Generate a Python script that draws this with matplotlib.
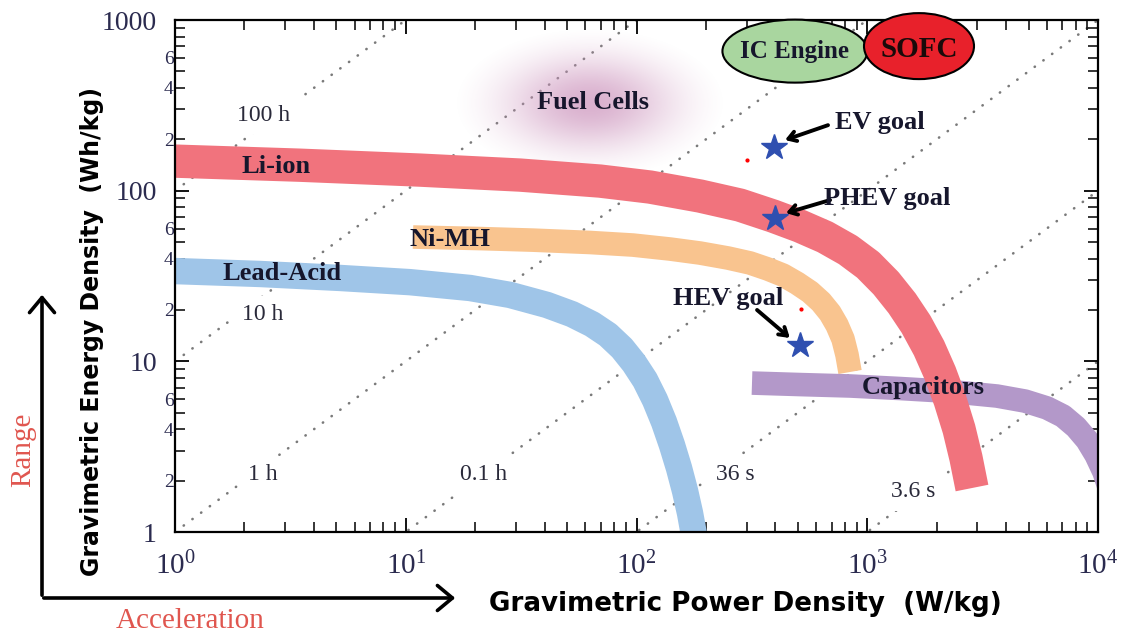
import numpy as np
import matplotlib
matplotlib.use('Agg')
import matplotlib.pyplot as plt
from matplotlib.patches import Ellipse, FancyArrowPatch
from matplotlib.ticker import FixedLocator, FixedFormatter, NullFormatter

plt.rcParams['font.family'] = ['Liberation Serif', 'DejaVu Serif']
plt.rcParams['mathtext.fontset'] = 'custom'
plt.rcParams['mathtext.rm'] = 'Liberation Serif'
plt.rcParams['mathtext.it'] = 'Liberation Serif:italic'
plt.rcParams['mathtext.bf'] = 'Liberation Serif:bold'

# band centre lines: power density (W/kg), energy density (Wh/kg)
liion_p = [1, 3.48, 11.5, 31.3, 69.5, 114.4, 188.5, 280.8, 390.5, 511, 656, 825, 1008,
           1206, 1415, 1627, 1852, 2067, 2284, 2498, 2679, 2844]
liion_e = [149, 141, 132, 123.4, 113.8, 105, 93, 82.3, 71, 62, 53.5, 44.9, 36.7,
           28.7, 21.9, 16.5, 11.96, 8.54, 5.93, 4.01, 2.71, 1.81]
nimh_p = [10.75, 20.98, 35.6, 62.9, 96.6, 139.7, 188.5, 249.2, 310.4, 371.5, 431.3,
          496.2, 564.9, 630.3, 689.5, 739.6, 785.2, 817.2, 842]
nimh_e = [53.5, 52.4, 51.3, 49.7, 48, 45.5, 43.1, 40.3, 37.7, 34.7, 32,
          28.7, 25.5, 22.3, 19.2, 16.3, 13.5, 10.9, 8.66]
lead_p = [1, 2.335, 5.19, 10.43, 18.98, 28.3, 40.9, 52.5, 64.2, 75.2, 86.5, 97.5,
          108.9, 120.3, 131.6, 142.5, 152.8, 162.3, 170.6, 177.5, 182.9]
lead_e = [33.8, 32.5, 30.8, 29.1, 26.9, 24.5, 21.4, 18.9, 16.5, 14.3, 11.96, 9.77,
          7.77, 5.93, 4.41, 3.23, 2.37, 1.74, 1.29, 0.96, 0.785]
cap_p = [316.6, 511, 842, 1387, 2284, 3650, 4827, 6012, 7051, 8028, 8961, 9802, 10617, 11270]
cap_e = [7.46, 7.31, 7.17, 6.93, 6.66, 6.26, 5.85, 5.33, 4.78, 4.12, 3.46, 2.83, 2.25, 1.76]

# constant discharge time lines (hours) and their labels
hours = [100, 10, 1, 0.1, 0.01, 0.001]
time_labels = ['100 h', '10 h', '1 h', '0.1 h', '36 s', '3.6 s']
time_lab_p = [2.43, 2.40, 2.40, 21.8, 267, 1578]
time_lab_e = [277, 18.7, 2.16, 2.16, 2.16, 1.72]

# goals
goal_names = ['EV goal', 'PHEV goal', 'HEV goal']
goal_p = [394, 398, 511]
goal_e = [180, 69, 12.5]
goal_text_p = [1130, 1220, 250]
goal_text_e = [252, 90, 23.5]
goal_tail_p = [676, 690, 333]
goal_tail_e = [242, 88.1, 20.0]
goal_tip_p = [440, 444, 462]
goal_tip_e = [198, 73.9, 13.7]

stray_p = [301, 516]
stray_e = [151, 20.2]

x_major = [1, 10, 100, 1000, 10000]
x_labels = [r'$10^{0}$', r'$10^{1}$', r'$10^{2}$', r'$10^{3}$', r'$10^{4}$']
y_major = [1, 10, 100, 1000]
y_labels = ['1', '10', '100', '1000']

fig = plt.figure(figsize=(11.24, 6.32), dpi=100)
ax = fig.add_axes([175/1124, 100/632, 923/1124, 512/632])
ax.set_xscale('log')
ax.set_yscale('log')

txtc = '#16162c'
tickc = '#2b2b4f'

# dotted time lines
pp = np.array([1, 1e4])
for h in hours:
    ax.plot(pp, h*pp, color='#7a7a7a', lw=1.9, linestyle=(0, (0.1, 4)),
            dash_capstyle='round', zorder=1)
for lab, p, e in zip(time_labels, time_lab_p, time_lab_e):
    ax.text(p, e, lab, fontsize=17, color='#2a2a3a', ha='center', va='center', zorder=1.2,
            bbox=dict(facecolor='white', edgecolor='none', pad=6))

# bands
band_kw = dict(solid_capstyle='butt', solid_joinstyle='round')
ax.plot(lead_p, lead_e, color='#9fc5e8', lw=19, zorder=2, **band_kw)
ax.plot(nimh_p, nimh_e, color='#f9c48f', lw=17, zorder=2, **band_kw)
ax.plot(cap_p, cap_e, color='#b398c9', lw=17, zorder=2.1, **band_kw)
ax.plot(liion_p, liion_e, color='#f1737d', lw=24, zorder=2.2, **band_kw)

ax.set_xlim(1, 1e4)
ax.set_ylim(1, 1000)

def to_axes(p, e):
    return ax.transAxes.inverted().transform(ax.transData.transform((p, e)))

# fuel cell glow
gx, gy = np.meshgrid(np.linspace(-1, 1, 260), np.linspace(-1, 1, 140))
r2 = gx**2 + gy**2
a = np.clip((np.exp(-2.5*r2) - np.exp(-2.5)) / (1 - np.exp(-2.5)), 0, 1)
img = np.zeros((140, 260, 4))
img[..., 0] = 0.80
img[..., 1] = 0.58
img[..., 2] = 0.74
img[..., 3] = 0.72*a
fx, fy = to_axes(62.9, 326)
hw, hh = 135/923, 75/512
ax.imshow(img, extent=[fx-hw, fx+hw, fy-hh, fy+hh], transform=ax.transAxes,
          aspect='auto', interpolation='bilinear', zorder=1.5)
ax.set_xlim(1, 1e4)
ax.set_ylim(1, 1000)

# IC engine and SOFC ellipses
cx, cy = to_axes(486, 657)
ax.add_patch(Ellipse((cx, cy), 145/923, 63/512, transform=ax.transAxes, facecolor='#a9d69f',
                     edgecolor='black', lw=1.5, clip_on=False, zorder=5))
cx, cy = to_axes(1676, 703)
ax.add_patch(Ellipse((cx, cy), 110/923, 66/512, transform=ax.transAxes, facecolor='#e8212b',
                     edgecolor='black', lw=1.5, clip_on=False, zorder=5))
ax.text(486, 650, 'IC Engine', fontsize=18, fontweight='bold', color=txtc, ha='center', va='center', zorder=6)
ax.text(1676, 675, 'SOFC', fontsize=21, fontweight='bold', color='#1a0a0a', ha='center', va='center', zorder=6)

# goals
ax.plot(goal_p, goal_e, linestyle='none', marker='*', markersize=19, color='#2f4fb0', zorder=4)
ax.plot(stray_p, stray_e, linestyle='none', marker='o', markersize=2, color='red', zorder=4)
for i in range(3):
    ax.annotate('', xy=(goal_tip_p[i], goal_tip_e[i]), xytext=(goal_tail_p[i], goal_tail_e[i]),
                arrowprops=dict(arrowstyle='->,head_length=0.55,head_width=0.35', lw=2.8,
                                color='black', shrinkA=0, shrinkB=0), zorder=4)
    ax.text(goal_text_p[i], goal_text_e[i], goal_names[i], fontsize=19, fontweight='bold',
            color=txtc, ha='center', va='center', zorder=6)

# band labels
ax.text(2.75, 138, 'Li-ion', fontsize=19, fontweight='bold', color=txtc, ha='center', va='center', zorder=6)
ax.text(15.5, 52, 'Ni-MH', fontsize=19, fontweight='bold', color=txtc, ha='center', va='center', zorder=6)
ax.text(2.9, 32.5, 'Lead-Acid', fontsize=19, fontweight='bold', color=txtc, ha='center', va='center', zorder=6)
ax.text(1750, 7.05, 'Capacitors', fontsize=19, fontweight='bold', color=txtc, ha='center', va='center', zorder=6)
ax.text(65, 330, 'Fuel Cells', fontsize=19, fontweight='bold', color=txtc, ha='center', va='center', zorder=6)

# ticks
ax.xaxis.set_major_locator(FixedLocator(x_major))
ax.xaxis.set_major_formatter(FixedFormatter(x_labels))
ax.xaxis.set_minor_locator(FixedLocator([k*10**d for d in range(4) for k in range(2, 10)]))
ax.xaxis.set_minor_formatter(NullFormatter())
ax.yaxis.set_major_locator(FixedLocator(y_major))
ax.yaxis.set_major_formatter(FixedFormatter(y_labels))
y_minor = [k*10**d for d in range(3) for k in range(2, 10)]
ax.yaxis.set_minor_locator(FixedLocator(y_minor))
ax.yaxis.set_minor_formatter(FixedFormatter([str(k) if k in (2, 4, 6) else '' for d in range(3) for k in range(2, 10)]))

ax.tick_params(which='both', direction='in', top=True, right=True, colors='black', labelcolor=tickc)
ax.tick_params(which='major', length=10, width=1.3)
ax.tick_params(which='minor', length=7, width=1.1)
ax.tick_params(axis='x', which='major', labelsize=21, pad=14)
ax.tick_params(axis='y', which='major', labelsize=20, pad=13)
ax.tick_params(axis='y', which='minor', labelsize=14, pad=1)
for s in ax.spines.values():
    s.set_linewidth(1.6)

# axis titles
fig.text(745/1124, 1-604/632, 'Gravimetric Power Density  (W/kg)', family='DejaVu Sans',
         fontweight='bold', fontsize=18.8, ha='center', va='center')
fig.text(92/1124, 1-331/632, 'Gravimetric Energy Density  (Wh/kg)', family='DejaVu Sans',
         fontweight='bold', fontsize=17, ha='center', va='center', rotation=90)

# range / acceleration arrows
fig.add_artist(FancyArrowPatch((42/1124, 1-598/632), (42/1124, 1-292/632), transform=fig.transFigure,
                               arrowstyle='->,head_length=0.6,head_width=0.5', mutation_scale=18,
                               lw=2.6, color='black'))
fig.add_artist(FancyArrowPatch((41/1124, 1-598/632), (458/1124, 1-598/632), transform=fig.transFigure,
                               arrowstyle='->,head_length=0.6,head_width=0.5', mutation_scale=18,
                               lw=2.6, color='black'))
fig.text(23/1124, 1-450/632, 'Range', fontsize=21, color='#e0564f', rotation=90, ha='center', va='center')
fig.text(190/1124, 1-621/632, 'Acceleration', fontsize=21, color='#e0564f', ha='center', va='center')

fig.savefig('out.png', dpi=100)
